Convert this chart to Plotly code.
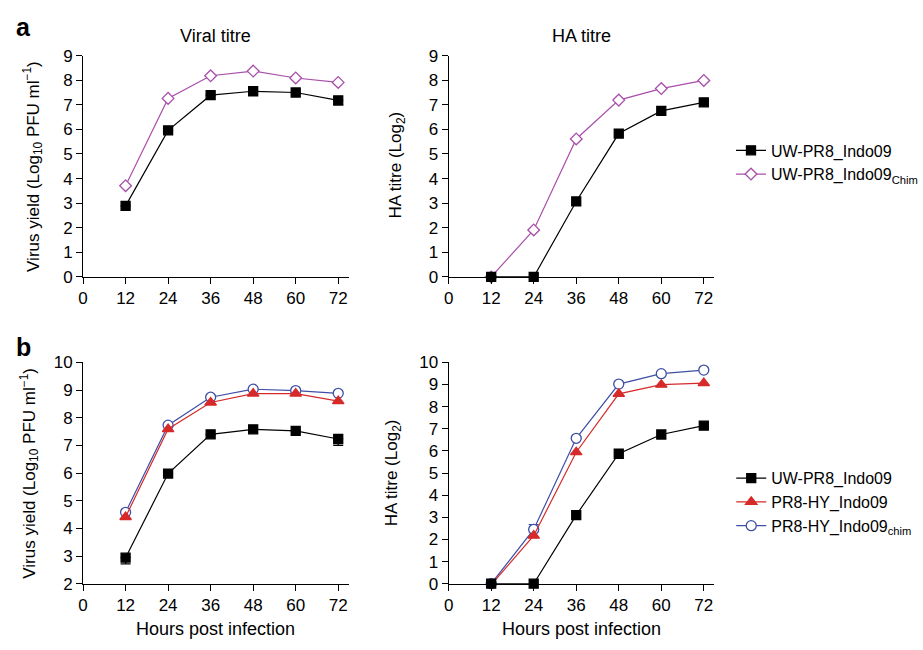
import plotly.graph_objects as go

hours = [12, 24, 36, 48, 60, 72]
x_ticks = [0, 12, 24, 36, 48, 60, 72]

# panel a
a_viral_uw = [2.89, 5.96, 7.39, 7.55, 7.50, 7.18]
a_viral_uw_err = [0, 0, 0, 0, 0, 0.18]
a_viral_chim = [3.71, 7.26, 8.18, 8.37, 8.09, 7.91]
a_ha_uw = [0.0, 0.0, 3.07, 5.83, 6.75, 7.10]
a_ha_chim = [0.0, 1.91, 5.61, 7.19, 7.66, 7.99]

# panel b
b_viral_uw = [2.94, 5.98, 7.40, 7.58, 7.52, 7.23]
b_viral_uw_err = [0.22, 0, 0, 0, 0, 0.23]
b_viral_hy = [4.41, 7.59, 8.55, 8.87, 8.87, 8.60]
b_viral_hychim = [4.58, 7.73, 8.74, 9.03, 8.98, 8.88]
b_ha_uw = [0.0, 0.0, 3.10, 5.87, 6.74, 7.14]
b_ha_hy = [-0.05, 2.17, 5.94, 8.58, 8.99, 9.06]
b_ha_hychim = [0.0, 2.45, 6.57, 9.02, 9.49, 9.65]
b_ha_hychim_err = [0, 0.22, 0, 0, 0, 0]

FONT = "Liberation Sans, Arial, Helvetica, sans-serif"
BLACK = "#000000"
PURPLE = "#A94FAA"
RED = "#D62A2A"
BLUE = "#3D4FA6"

fig = go.Figure()


def err(vals, down=True, color=BLACK):
    zeros = [0] * len(vals)
    return dict(type="data", symmetric=False,
                array=zeros if down else vals,
                arrayminus=vals if down else zeros,
                thickness=1.2, width=5, color=color)


def add(y, xa, ya, name, color, symbol, size, legend, show, rank, fill=None, error=None):
    fig.add_trace(go.Scatter(
        x=hours, y=y, xaxis=xa, yaxis=ya, name=name, mode="lines+markers",
        line=dict(color=color, width=1.2),
        marker=dict(color=fill if fill else color, symbol=symbol, size=size,
                    line=dict(color=color, width=1.3)),
        cliponaxis=False, showlegend=show, legend=legend, legendrank=rank,
        error_y=error,
    ))


# panel a - viral
add(a_viral_chim, "x", "y", "UW-PR8_Indo09<sub>Chim</sub>", PURPLE, "diamond", 9, "legend", True, 2, fill="white")
add(a_viral_uw, "x", "y", "UW-PR8_Indo09", BLACK, "square", 9, "legend", True, 1, error=err(a_viral_uw_err))
# panel a - HA
add(a_ha_chim, "x2", "y2", "UW-PR8_Indo09<sub>Chim</sub>", PURPLE, "diamond", 9, "legend", False, 2, fill="white")
add(a_ha_uw, "x2", "y2", "UW-PR8_Indo09", BLACK, "square", 9, "legend", False, 1)
# panel b - viral
add(b_viral_hychim, "x3", "y3", "PR8-HY_Indo09<sub>chim</sub>", BLUE, "circle", 10, "legend2", True, 3, fill="white")
add(b_viral_hy, "x3", "y3", "PR8-HY_Indo09", RED, "triangle-up", 10, "legend2", True, 2)
add(b_viral_uw, "x3", "y3", "UW-PR8_Indo09", BLACK, "square", 9, "legend2", True, 1, error=err(b_viral_uw_err))
# panel b - HA
add(b_ha_hychim, "x4", "y4", "PR8-HY_Indo09<sub>chim</sub>", BLUE, "circle", 10, "legend2", False, 3, fill="white",
    error=err(b_ha_hychim_err, down=False, color=BLUE))
add(b_ha_hy, "x4", "y4", "PR8-HY_Indo09", RED, "triangle-up", 10, "legend2", False, 2)
add(b_ha_uw, "x4", "y4", "UW-PR8_Indo09", BLACK, "square", 9, "legend2", False, 1)

W, H = 923, 650
left_dom = [79 / W, 348 / W]
right_dom = [449 / W, 718 / W]
top_dom = [(H - 276) / H, (H - 48) / H]
bot_dom = [(H - 592) / H, (H - 364) / H]


def xax(dom, anchor):
    return dict(domain=dom, anchor=anchor, range=[0, 75], tickvals=x_ticks,
                ticks="outside", ticklen=6, tickwidth=1, tickcolor=BLACK,
                showline=True, linecolor=BLACK, linewidth=1, showgrid=False,
                zeroline=False, tickfont=dict(size=17, color=BLACK, family=FONT))


def yax(dom, anchor, rng):
    return dict(domain=dom, anchor=anchor, range=rng, dtick=1,
                ticks="outside", ticklen=6, tickwidth=1, tickcolor=BLACK,
                showline=True, linecolor=BLACK, linewidth=1, showgrid=False,
                zeroline=False, tickfont=dict(size=17, color=BLACK, family=FONT))


ann = []


def text(x, y, s, size=17, angle=0, bold=False):
    ann.append(dict(x=x / W, y=(H - y) / H, xref="paper", yref="paper", text=f"<b>{s}</b>" if bold else s,
                    showarrow=False, textangle=angle, xanchor="center", yanchor="middle",
                    font=dict(size=size, color=BLACK, family=FONT)))


text(19, 19, "a", size=25, bold=True)
text(19, 348, "b", size=25, bold=True)
text(213, 28, "Viral titre", size=18)
text(583, 28, "HA titre", size=18)
text(28, 162, "Virus yield (Log<sub>10</sub> PFU ml<sup>−1</sup>)", angle=-90)
text(397, 161, "HA titre (Log<sub>2</sub>)", angle=-90)
text(24, 478, "Virus yield (Log<sub>10</sub> PFU ml<sup>−1</sup>)", angle=-90)
text(393, 478, "HA titre (Log<sub>2</sub>)", angle=-90)
text(213, 639, "Hours post infection", size=18)
text(583, 639, "Hours post infection", size=18)

fig.update_layout(
    width=W, height=H, margin=dict(l=0, r=0, t=0, b=0),
    paper_bgcolor="white", plot_bgcolor="white",
    font=dict(family=FONT, size=16, color=BLACK),
    xaxis=xax(left_dom, "y"), yaxis=yax(top_dom, "x", [0, 9]),
    xaxis2=xax(right_dom, "y2"), yaxis2=yax(top_dom, "x2", [0, 9]),
    xaxis3=xax(left_dom, "y3"), yaxis3=yax(bot_dom, "x3", [2, 10]),
    xaxis4=xax(right_dom, "y4"), yaxis4=yax(bot_dom, "x4", [0, 10]),
    legend=dict(x=735 / W, y=(H - 158) / H, xanchor="left", yanchor="middle",
                bgcolor="rgba(0,0,0,0)", font=dict(size=16, family=FONT, color=BLACK),
                tracegroupgap=0),
    legend2=dict(x=735 / W, y=(H - 508) / H, xanchor="left", yanchor="middle",
                 bgcolor="rgba(0,0,0,0)", font=dict(size=16, family=FONT, color=BLACK),
                 tracegroupgap=0),
    annotations=ann,
    showlegend=True,
)

fig.write_html("out.html")
